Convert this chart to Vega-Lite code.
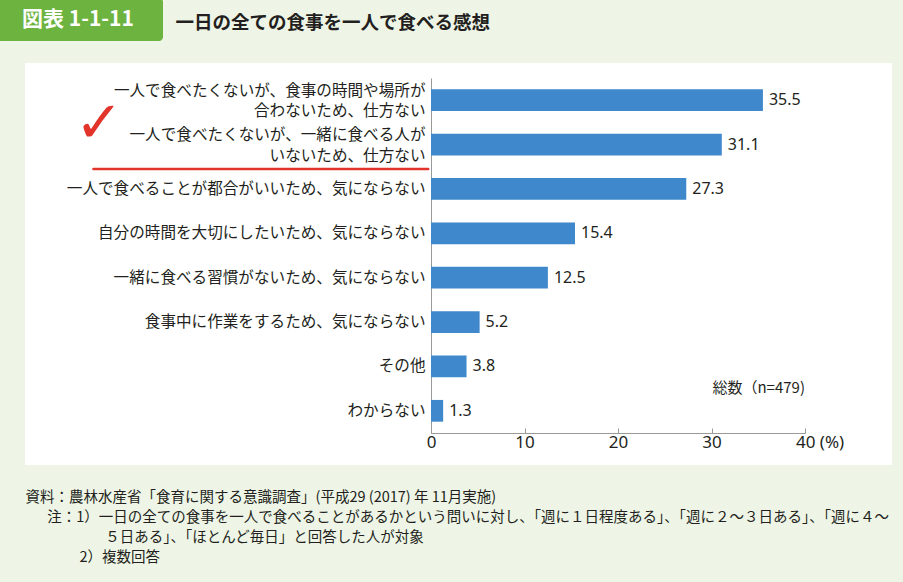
{
  "$schema": "https://vega.github.io/schema/vega-lite/v6.json",
  "autosize": {"type": "none"},
  "padding": {"left": 25, "top": 63, "right": 11, "bottom": 117},
  "width": 867,
  "height": 402,
  "background": "#eef5e6",
  "view": {"fill": "white", "stroke": null},
  "config": {"font": "Noto Sans CJK JP"},
  "data": {"values": [
    {"label": "一人で食べたくないが、食事の時間や場所が\n合わないため、仕方ない", "value": 35.5},
    {"label": "一人で食べたくないが、一緒に食べる人が\nいないため、仕方ない", "value": 31.1},
    {"label": "一人で食べることが都合がいいため、気にならない", "value": 27.3},
    {"label": "自分の時間を大切にしたいため、気にならない", "value": 15.4},
    {"label": "一緒に食べる習慣がないため、気にならない", "value": 12.5},
    {"label": "食事中に作業をするため、気にならない", "value": 5.2},
    {"label": "その他", "value": 3.8},
    {"label": "わからない", "value": 1.3}
  ]},
  "encoding": {
    "y": {
      "field": "label", "type": "nominal", "sort": null,
      "scale": {"range": [15, 370], "paddingInner": 0.51, "paddingOuter": 0.255},
      "axis": {
        "orient": "left", "offset": -406, "domainColor": "#9a9a9a", "ticks": false,
        "labelPadding": 6, "labelFontSize": 15.6, "labelColor": "#231f20", "labelLineHeight": 20.5,
        "labelLimit": 500, "labelExpr": "split(datum.label, '\\n')",
        "labelOffset": {"condition": {"test": "indexof(datum.value, '\\n') >= 0", "value": -9.5}, "value": 0},
        "title": "一日の全ての食事を一人で食べる感想", "titleAngle": 0, "titleX": -256, "titleY": -41,
        "titleAlign": "left", "titleBaseline": "middle", "titleFontSize": 18.5, "titleFontWeight": "bold",
        "titleColor": "#231f20"
      }
    }
  },
  "layer": [
    {
      "mark": {"type": "bar"},
      "encoding": {
        "x": {
          "field": "value", "type": "quantitative",
          "scale": {"domain": [0, 40], "range": [406, 780], "nice": false, "zero": true},
          "axis": {
            "orient": "bottom", "offset": -32, "values": [0, 10, 20, 30, 40], "grid": false,
            "domainColor": "#9a9a9a", "tickColor": "#9a9a9a", "tickSize": -5,
            "labelFont": "Noto Sans", "labelFontSize": 17, "labelColor": "#231f20", "labelPadding": 6,
            "labelFlush": false, "labelOverlap": false,
            "labelExpr": "datum.value == 40 ? '40 (%)' : datum.label",
            "labelAlign": {"condition": {"test": "datum.value == 40", "value": "left"}, "value": "center"},
            "labelOffset": {"condition": {"test": "datum.value == 40", "value": -9.5}, "value": 0},
            "title": [
              "資料：農林水産省「食育に関する意識調査」(平成29 (2017) 年 11月実施)",
              "\u200b\u3000\u2002注：1）一日の全ての食事を一人で食べることがあるかという問いに対し、「週に１日程度ある」、「週に２～３日ある」、「週に４～",
              "\u200b\u3000\u3000\u3000\u3000\u3000\u2002５日ある」、「ほとんど毎日」と回答した人が対象",
              "\u200b\u3000\u3000\u3000\u2002 2）複数回答"
            ],
            "titleX": 0, "titleY": 57, "titleAlign": "left", "titleAnchor": "start", "titleBaseline": "top",
            "titleFontSize": 14.5, "titleFontWeight": "normal", "titleLineHeight": 20, "titleColor": "#231f20"
          }
        },
        "color": {
          "datum": "図表 1-1-11\u2002\u2004\u200b",
          "scale": {"range": ["#3f88cb"]},
          "legend": {
            "orient": "none", "legendX": -47, "legendY": -65, "fillColor": "#6db33f", "padding": 11,
            "cornerRadius": 4, "strokeColor": null, "title": null,
            "labelColor": "white", "labelFontSize": 21, "labelFontWeight": "bold",
            "symbolSize": 1, "symbolOpacity": 0, "symbolStrokeWidth": 0, "labelOffset": 12
          }
        }
      }
    },
    {
      "mark": {"type": "text", "align": "left", "baseline": "middle", "dx": 6, "font": "Noto Sans", "fontSize": 16, "color": "#231f20"},
      "encoding": {
        "x": {"field": "value", "type": "quantitative"},
        "text": {"field": "value", "type": "quantitative", "format": ".1f"}
      }
    },
    {
      "data": {"values": [{"note": "総数（n=479)"}]},
      "mark": {"type": "text", "align": "right", "baseline": "middle", "fontSize": 15, "color": "#231f20"},
      "encoding": {
        "x": {"datum": 40, "type": "quantitative"},
        "y": {"datum": "その他", "bandPosition": 1.5},
        "text": {"field": "note"}
      }
    },
    {
      "data": {"values": [{"mark": "✓"}]},
      "mark": {"type": "text", "align": "center", "baseline": "middle", "font": "DejaVu Sans", "fontSize": 58, "color": "#e3342b"},
      "encoding": {
        "x": {"datum": -35.5, "type": "quantitative"},
        "y": {"datum": "一人で食べたくないが、一緒に食べる人が\nいないため、仕方ない", "bandPosition": -0.4},
        "text": {"field": "mark"}
      }
    },
    {
      "data": {"values": [{"a": -36.1, "b": -0.3}]},
      "mark": {"type": "rule", "color": "#e3342b", "strokeWidth": 2.5, "strokeCap": "round"},
      "encoding": {
        "x": {"field": "a", "type": "quantitative"},
        "x2": {"field": "b"},
        "y": {"datum": "一人で食べたくないが、一緒に食べる人が\nいないため、仕方ない", "bandPosition": 1.62}
      }
    }
  ]
}
